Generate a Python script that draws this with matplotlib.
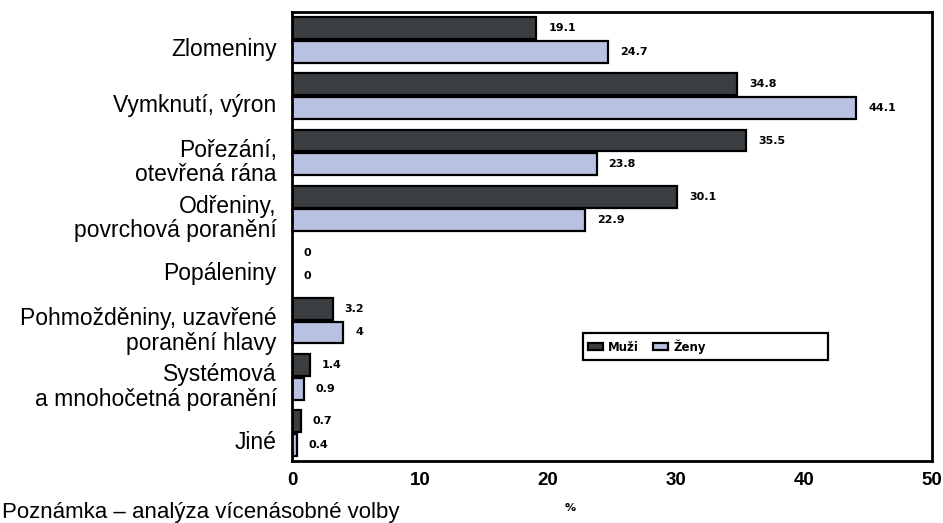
import numpy as np
import matplotlib
matplotlib.use("Agg")
import matplotlib.pyplot as plt
from matplotlib.patches import Rectangle

# data
categories = ["Zlomeniny", "Vymknutí, výron", "Pořezání,\notevřená rána",
              "Odřeniny,\npovrchová poranění", "Popáleniny",
              "Pohmožděniny, uzavřené\nporanění hlavy",
              "Systémová\na mnohočetná poranění", "Jiné"]
muzi = [19.1, 34.8, 35.5, 30.1, 0, 3.2, 1.4, 0.7]
zeny = [24.7, 44.1, 23.8, 22.9, 0, 4, 0.9, 0.4]
muzi_lbl = ["19.1", "34.8", "35.5", "30.1", "0", "3.2", "1.4", "0.7"]
zeny_lbl = ["24.7", "44.1", "23.8", "22.9", "0", "4", "0.9", "0.4"]
xticks = [0, 10, 20, 30, 40, 50]

dark = "#3b3e41"
light = "#b9c1e2"

fig = plt.figure(figsize=(9.43, 5.23), dpi=100)
ax = fig.add_axes([292/943, 1 - 461/523, 640/943, 449/523])

y = np.arange(len(categories))
h = 0.39
b1 = ax.barh(y - 0.21, muzi, height=h, color=dark, edgecolor="black", linewidth=1.6)
b2 = ax.barh(y + 0.21, zeny, height=h, color=light, edgecolor="black", linewidth=1.6)

for yi, v, s in zip(y, muzi, muzi_lbl):
    ax.annotate(s, (v, yi - 0.21), xytext=(8.5, 0), textcoords="offset points",
                va="center", ha="left", fontsize=8, fontweight="bold")
for yi, v, s in zip(y, zeny, zeny_lbl):
    ax.annotate(s, (v, yi + 0.21), xytext=(8.5, 0), textcoords="offset points",
                va="center", ha="left", fontsize=8, fontweight="bold")

ax.set_xlim(0, 50)
ax.set_ylim(len(categories) - 0.5, -0.5)
ax.set_xticks(xticks)
ax.set_xticklabels([str(t) for t in xticks], fontsize=13.5, fontweight="bold",
                   family="Liberation Sans")
ax.set_yticks(y + 0.12)
ax.set_yticklabels(categories, fontsize=16.5, family="Liberation Sans",
                   linespacing=1.1)
ax.tick_params(axis="x", length=0, pad=8)
ax.tick_params(axis="y", length=0, pad=11)
for sp in ax.spines.values():
    sp.set_linewidth(2)
    sp.set_color("black")

# legend box
ax.add_patch(Rectangle((0.455, 0.225), 0.383, 0.06, transform=ax.transAxes,
                       facecolor="white", edgecolor="black", linewidth=1.6, zorder=5))
leg = ax.legend([b1, b2], ["Muži", "Ženy"], ncol=2, frameon=False,
                loc="center left", bbox_to_anchor=(0.455, 0.255),
                prop={"size": 8.5, "weight": "bold"}, handlelength=1.3,
                handleheight=0.6, handletextpad=0.4, columnspacing=1.2,
                borderaxespad=0)
leg.set_zorder(6)

fig.text(570/943, 1 - 508/523, "%", fontsize=8, fontweight="bold", ha="center", va="center")
fig.text(0.002, 5/523, "Poznámka – analýza vícenásobné volby", fontsize=16,
         family="Liberation Sans", ha="left", va="baseline")

fig.savefig("out.png", dpi=100)
